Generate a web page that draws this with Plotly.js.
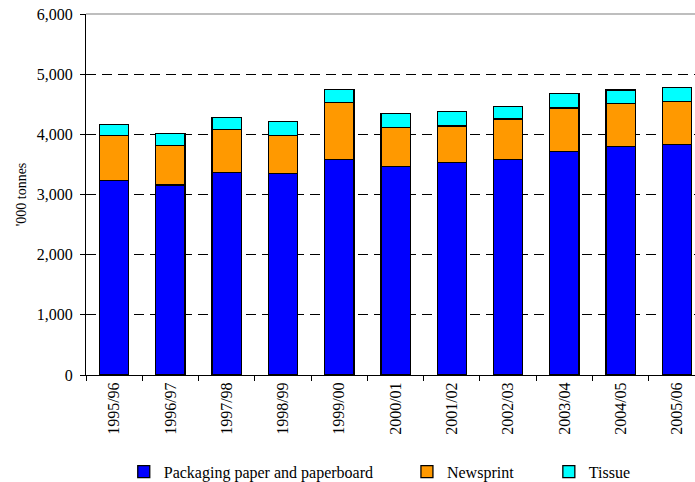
<!DOCTYPE html>
<html>
<head>
<meta charset="utf-8">
<script src="https://cdn.plot.ly/plotly-3.0.1.min.js"></script>
<style>html,body{margin:0;padding:0;background:#fff;}#chart{width:695px;height:482px;}</style>
</head>
<body>
<div id="chart"></div>
<script>
var years = ["1995/96","1996/97","1997/98","1998/99","1999/00","2000/01","2001/02","2002/03","2003/04","2004/05","2005/06"];
var packaging = [3228, 3160, 3360, 3344, 3576, 3460, 3527, 3576, 3709, 3802, 3826];
var newsprint = [752, 660, 715, 636, 957, 658, 614, 681, 731, 710, 724];
var tissue = [188, 190, 210, 238, 211, 232, 233, 205, 233, 227, 232];
var seriesNames = ["Packaging paper and paperboard", "Newsprint", "Tissue"];
var yTicks = [0, 1000, 2000, 3000, 4000, 5000, 6000];
var yTickText = ["0", "1,000", "2,000", "3,000", "4,000", "5,000", "6,000"];

var FONT = '"Liberation Serif", serif';
var line = {color: "#000000", width: 1.3};
var traces = [
  {type: "bar", x: years, y: packaging, name: seriesNames[0], marker: {color: "#0000FF", line: line}, width: 0.52, legend: "legend"},
  {type: "bar", x: years, y: newsprint, name: seriesNames[1], marker: {color: "#FF9900", line: line}, width: 0.52, legend: "legend2"},
  {type: "bar", x: years, y: tissue, name: seriesNames[2], marker: {color: "#00FFFF", line: line}, width: 0.52, legend: "legend3"}
];

var legBase = {orientation: "h", yanchor: "middle", xanchor: "left", y: -0.268, font: {family: FONT, size: 16, color: "#000"}, bgcolor: "rgba(0,0,0,0)", borderwidth: 0};
var layout = {
  width: 695, height: 482,
  margin: {l: 86, r: 0, t: 14, b: 107, pad: 0, autoexpand: false},
  paper_bgcolor: "#ffffff", plot_bgcolor: "#ffffff",
  barmode: "stack",
  showlegend: true,
  font: {family: FONT, size: 16, color: "#000"},
  xaxis: {
    type: "category",
    automargin: false,
    range: [-0.5, 10.32],
    tickson: "boundaries",
    ticks: "outside", ticklen: 5, tickcolor: "#000", tickwidth: 1,
    tickangle: -90,
    showline: true, linecolor: "#000", linewidth: 1,
    showgrid: false, zeroline: false,
    tickfont: {family: FONT, size: 16, color: "#000"}
  },
  yaxis: {
    automargin: false,
    range: [0, 6000],
    tickvals: yTicks, ticktext: yTickText,
    ticks: "outside", ticklen: 5, tickcolor: "#000", tickwidth: 1,
    ticklabelstandoff: 4,
    showline: true, linecolor: "#000", linewidth: 1,
    showgrid: true, gridcolor: "#000", gridwidth: 1, griddash: "10px,6px",
    zeroline: false,
    tickfont: {family: FONT, size: 16, color: "#000"},
    title: {text: "'000 tonnes", font: {family: FONT, size: 14, color: "#000"}, standoff: 6}
  },
  shapes: [
    {type: "line", xref: "paper", yref: "paper", x0: 0, x1: 1, y0: 1, y1: 1, line: {color: "#a8a8a8", width: 1.5}, layer: "above"}
  ],
  legend: Object.assign({}, legBase, {x: 0.062}),
  legend2: Object.assign({}, legBase, {x: 0.527}),
  legend3: Object.assign({}, legBase, {x: 0.76})
};

Plotly.newPlot("chart", traces, layout, {displayModeBar: false, staticPlot: true});
</script>
</body>
</html>
